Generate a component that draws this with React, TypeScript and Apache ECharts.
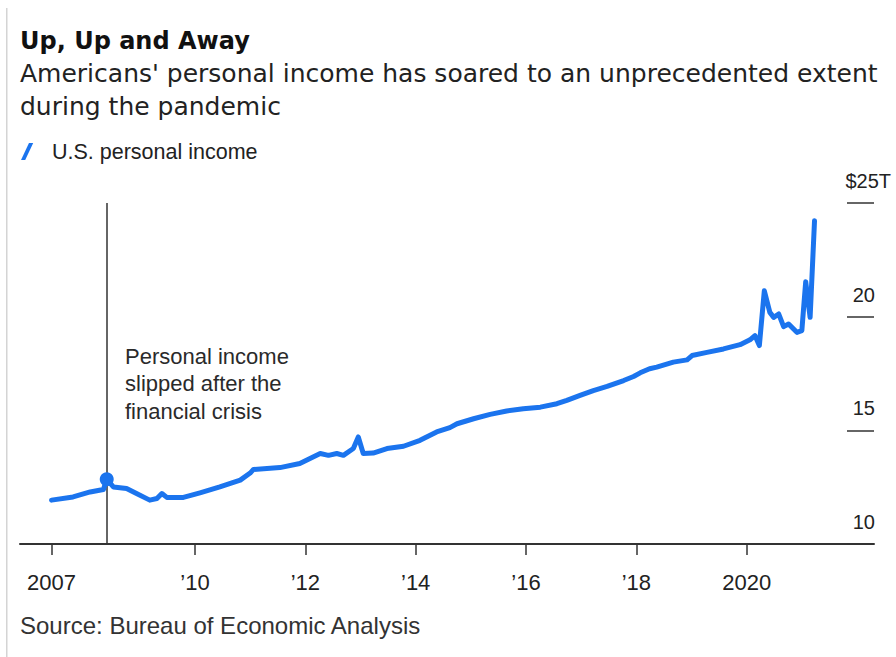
import React, { useEffect, useRef } from "react";
import * as echarts from "echarts";

// Fractional years and U.S. personal income, $ trillions (annual rate)
const years = [
  2007.40, 2007.79, 2008.10, 2008.34, 2008.40, 2008.52, 2008.76, 2008.94,
  2009.18, 2009.31, 2009.40, 2009.49, 2009.79, 2010.09, 2010.45, 2010.82,
  2011.00, 2011.06, 2011.54, 2011.90, 2012.27, 2012.42, 2012.57, 2012.69,
  2012.87, 2012.96, 2013.05, 2013.23, 2013.48, 2013.78, 2014.08, 2014.38,
  2014.62, 2014.75, 2015.05, 2015.35, 2015.65, 2015.95, 2016.26, 2016.56,
  2016.74, 2016.98, 2017.22, 2017.47, 2017.77, 2017.95, 2018.07, 2018.24,
  2018.37, 2018.67, 2018.92, 2019.01, 2019.28, 2019.58, 2019.88, 2020.06,
  2020.15, 2020.23, 2020.32, 2020.42, 2020.49, 2020.58, 2020.67, 2020.76,
  2020.91, 2021.00, 2021.07, 2021.15, 2021.23,
];
const income = [
  11.93, 12.07, 12.29, 12.40, 12.85, 12.51, 12.44, 12.22,
  11.93, 12.00, 12.22, 12.05, 12.05, 12.25, 12.51, 12.81,
  13.12, 13.28, 13.36, 13.54, 13.98, 13.90, 13.98, 13.90,
  14.20, 14.71, 13.98, 14.00, 14.20, 14.30, 14.56, 14.93,
  15.12, 15.29, 15.51, 15.70, 15.85, 15.95, 16.02, 16.17,
  16.32, 16.54, 16.75, 16.93, 17.19, 17.37, 17.53, 17.71,
  17.78, 18.00, 18.10, 18.29, 18.43, 18.58, 18.77, 18.98,
  19.17, 18.73, 21.14, 20.19, 19.97, 20.12, 19.56, 19.68,
  19.31, 19.39, 21.54, 19.97, 24.22,
];
const crisisIndex = 4; // May 2008 point marked with the dot and vertical rule

const xTickValues = [2007.4, 2010, 2012, 2014, 2016, 2018, 2020];
const yTickValues = [10, 15, 20, 25];

const titleText = "Up, Up and Away";
const subtitleText =
  "Americans' personal income has soared to an unprecedented extent\nduring the pandemic";
const legendName = "U.S. personal income";
const noteText = "Personal income\nslipped after the\nfinancial crisis";
const sourceText = "Source: Bureau of Economic Analysis";

const BLUE = "#1b74ee";
const INK = "#222222";
const SANS = "'Liberation Sans', Arial, sans-serif";

export default function App() {
  const ref = useRef<HTMLDivElement>(null);

  useEffect(() => {
    if (!ref.current) return;
    const chart = echarts.init(ref.current, undefined, { renderer: "svg" });

    const seriesData = years.map((y, i) => [y, income[i]]);

    chart.setOption({
      animation: false,
      backgroundColor: "#ffffff",
      grid: {
        left: 20,
        right: 22,
        top: 203,
        bottom: 113,
        containLabel: false,
        outerBoundsMode: "none",
      },
      xAxis: {
        type: "value",
        min: 2006.828,
        max: 2022.308,
        splitLine: { show: false },
        axisLine: { show: true, lineStyle: { color: "#333333", width: 2 } },
        axisTick: {
          show: true,
          customValues: xTickValues,
          length: 11,
          lineStyle: { color: "#333333", width: 1.5 },
        },
        axisLabel: {
          customValues: xTickValues,
          margin: 27,
          fontFamily: SANS,
          fontSize: 22,
          color: INK,
          formatter: (v: number) => {
            const y = Math.floor(v + 1e-6);
            return y === 2007 || y === 2020 ? String(y) : "\u2019" + String(y).slice(2);
          },
        },
      },
      yAxis: {
        type: "value",
        position: "right",
        min: 10,
        max: 25,
        interval: 5,
        splitLine: { show: false },
        axisLine: { show: false },
        axisTick: {
          show: true,
          inside: true,
          customValues: yTickValues,
          length: 27,
          lineStyle: { color: "#333333", width: 1.5 },
        },
        axisLabel: {
          inside: true,
          customValues: yTickValues,
          margin: -17,
          align: "right",
          verticalAlign: "middle",
          padding: [0, 0, 44, 0],
          formatter: (v: number) =>
            v === 25 ? "{t|$" + v + "T}" : "{n|" + v + "}",
          rich: {
            t: { fontFamily: SANS, fontSize: 20, color: INK },
            n: { fontFamily: SANS, fontSize: 20, color: INK, padding: [0, 16, 0, 0] },
          },
        },
      },
      series: [
        {
          name: legendName,
          type: "line",
          data: seriesData,
          showSymbol: false,
          symbol: "none",
          color: BLUE,
          lineStyle: { color: BLUE, width: 5, join: "round", cap: "round" },
          z: 3,
          markLine: {
            silent: true,
            symbol: ["none", "none"],
            label: { show: false },
            lineStyle: { color: "#333333", width: 1.5, type: "solid" },
            data: [{ xAxis: years[crisisIndex] }],
            z: 2,
          },
          markPoint: {
            silent: true,
            symbol: "circle",
            symbolSize: 14,
            itemStyle: { color: BLUE },
            label: { show: false },
            data: [{ coord: [years[crisisIndex], income[crisisIndex]] }],
          },
        },
      ],
      graphic: [
        {
          type: "rect",
          shape: { x: 6, y: 8, width: 1.5, height: 649 },
          style: { fill: "#d4d4d4" },
          silent: true,
        },
        {
          type: "text",
          x: 20,
          y: 41,
          style: {
            text: titleText,
            font: "bold 24px 'DejaVu Sans', sans-serif",
            fill: "#111111",
            verticalAlign: "middle",
          },
        },
        {
          type: "text",
          x: 20,
          y: 57,
          style: {
            text: subtitleText,
            font: "25px 'DejaVu Sans', sans-serif",
            lineHeight: 33,
            fill: INK,
            verticalAlign: "top",
          },
        },
        // legend: slanted line icon + series name
        {
          type: "polygon",
          shape: {
            points: [
              [21, 160],
              [25.2, 160],
              [33.2, 143],
              [29, 143],
            ],
          },
          style: { fill: BLUE },
          silent: true,
        },
        {
          type: "text",
          x: 52,
          y: 152,
          style: {
            text: legendName,
            font: "21.5px 'Liberation Sans', Arial, sans-serif",
            fill: INK,
            verticalAlign: "middle",
          },
        },
        {
          type: "text",
          x: 125,
          y: 343,
          style: {
            text: noteText,
            font: "22px 'Liberation Sans', Arial, sans-serif",
            lineHeight: 27.3,
            fill: "#2a2a2a",
            verticalAlign: "top",
          },
        },
        {
          type: "text",
          x: 20,
          y: 625,
          style: {
            text: sourceText,
            font: "24px 'Liberation Sans', Arial, sans-serif",
            fill: "#333333",
            verticalAlign: "middle",
          },
        },
      ],
    });

    return () => {
      chart.dispose();
    };
  }, []);

  return (
    <div
      ref={ref}
      style={{
        position: "absolute",
        left: 0,
        top: 0,
        width: 896,
        height: 657,
        background: "#ffffff",
      }}
    />
  );
}
